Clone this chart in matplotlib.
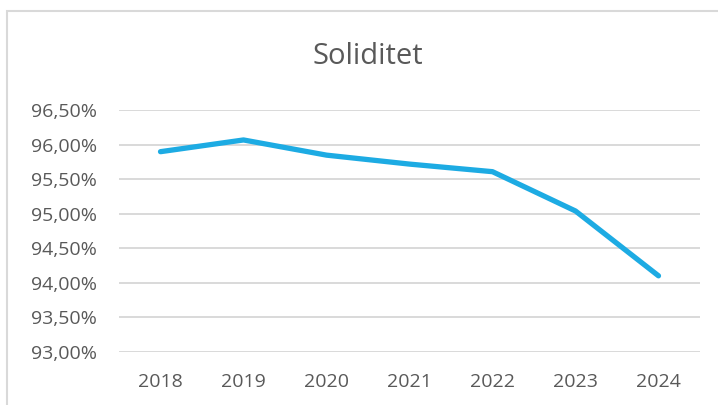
import matplotlib
matplotlib.use("Agg")
import matplotlib.pyplot as plt
from matplotlib.patches import Rectangle
from matplotlib.ticker import FuncFormatter

plt.rcParams['font.family'] = ['Open Sans', 'DejaVu Sans']

# data
years = ['2018', '2019', '2020', '2021', '2022', '2023', '2024']
soliditet = [95.90, 96.07, 95.85, 95.72, 95.61, 95.04, 94.10]
y_ticks = [93.0, 93.5, 94.0, 94.5, 95.0, 95.5, 96.0, 96.5]

txt = '#595959'
grid_col = '#D9D9D9'

fig = plt.figure(figsize=(7.18, 4.05), dpi=100)
fig.patch.set_facecolor('white')

# chart frame (cut off on right and bottom)
fig.patches.append(Rectangle((7 / 718, -0.1), 1.2, 1 - 11 / 405 + 0.1,
                             transform=fig.transFigure, fill=False,
                             edgecolor=grid_col, linewidth=1.5, zorder=0))

ax = fig.add_axes([119 / 718, 1 - 351.7 / 405, 581 / 718, 241.4 / 405])
x = list(range(len(years)))
ax.plot(x, soliditet, color='#1DABE3', linewidth=3.8, solid_capstyle='round',
        solid_joinstyle='round', zorder=3)

ax.set_xlim(-0.5, len(years) - 0.5)
ax.set_ylim(93.0, 96.5)
ax.set_yticks(y_ticks)
ax.yaxis.set_major_formatter(FuncFormatter(lambda v, p: f"{v:.2f}".replace('.', ',') + '%'))
ax.set_xticks(x)
ax.set_xticklabels(years)

ax.grid(axis='y', color=grid_col, linewidth=1.4)
ax.set_axisbelow(True)
for s in ax.spines.values():
    s.set_visible(False)
ax.tick_params(axis='both', length=0, labelsize=14, colors=txt)
ax.tick_params(axis='y', pad=16)
ax.tick_params(axis='x', pad=15)

fig.text(368 / 718, 1 - 56 / 405, 'Soliditet', ha='center', va='center',
         fontsize=21, color=txt)

fig.savefig('out.png', dpi=100)
